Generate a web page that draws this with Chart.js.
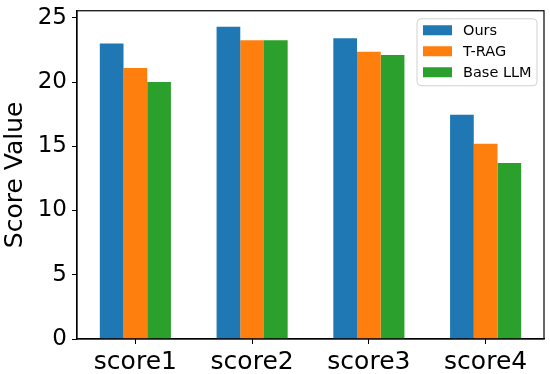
<!DOCTYPE html>
<html>
<head>
<meta charset="utf-8">
<script src="https://cdn.jsdelivr.net/npm/chart.js@4/dist/chart.umd.min.js"></script>
<style>
  html, body { margin: 0; padding: 0; background: #fff; }
  #wrap { width: 550px; height: 374px; }
</style>
</head>
<body>
<div id="wrap"><canvas id="chart"></canvas></div>
<script>
const categories = ["score1", "score2", "score3", "score4"];
const ours = [23.0, 24.3, 23.4, 17.45];
const trag = [21.1, 23.25, 22.35, 15.2];
const baseLlm = [20.0, 23.25, 22.1, 13.7];
const yTicks = [0, 5, 10, 15, 20, 25];

const font = "DejaVu Sans";

// matplotlib-style frame on all four sides
const framePlugin = {
  id: "frame",
  afterDraw(chart) {
    const { ctx, chartArea: a } = chart;
    ctx.save();
    ctx.strokeStyle = "#000";
    ctx.lineWidth = 1.2;
    ctx.strokeRect(a.left, a.top, a.right - a.left, a.bottom - a.top);
    ctx.restore();
  }
};

// legend box inside the upper right corner
const boxLegend = {
  id: "boxLegend",
  afterDraw(chart) {
    const { ctx, chartArea: a } = chart;
    const w = 120, h = 67;
    const x = a.right - 7 - w, y = a.top + 8;
    ctx.save();
    ctx.beginPath();
    ctx.roundRect(x, y, w, h, 4);
    ctx.fillStyle = "rgba(255,255,255,0.8)";
    ctx.fill();
    ctx.strokeStyle = "#d0d0d0";
    ctx.lineWidth = 1;
    ctx.stroke();
    ctx.font = `14.5px "${font}"`;
    ctx.textBaseline = "middle";
    chart.data.datasets.forEach((ds, i) => {
      const cy = y + 11.5 + i * 21;
      ctx.fillStyle = ds.backgroundColor;
      ctx.fillRect(x + 6, cy - 5, 29, 10);
      ctx.fillStyle = "#000";
      ctx.fillText(ds.label, x + 46, cy + 1);
    });
    ctx.restore();
  }
};

new Chart(document.getElementById("chart"), {
  type: "bar",
  plugins: [framePlugin, boxLegend],
  data: {
    labels: categories,
    datasets: [
      { label: "Ours", data: ours, backgroundColor: "#1f77b4" },
      { label: "T-RAG", data: trag, backgroundColor: "#ff7f0e" },
      { label: "Base LLM", data: baseLlm, backgroundColor: "#2ca02c" }
    ]
  },
  options: {
    responsive: true,
    maintainAspectRatio: false,
    animation: false,
    layout: { padding: { left: 0, right: 6, top: 7, bottom: 0 } },
    datasets: { bar: { barPercentage: 1, categoryPercentage: 0.609 } },
    plugins: { legend: { display: false }, tooltip: { enabled: false } },
    scales: {
      x: {
        afterFit(scale) { scale.height = 35; },
        grid: { drawOnChartArea: false, drawTicks: true, tickLength: 5, color: "#000", offset: false },
        border: { color: "#000", width: 1.2 },
        ticks: { color: "#000", padding: 3, font: { family: font, size: 25 } }
      },
      y: {
        min: 0,
        max: 25.55,
        afterFit(scale) { scale.width = 77; },
        afterBuildTicks(scale) { scale.ticks = yTicks.map((v) => ({ value: v })); },
        grid: { drawOnChartArea: false, drawTicks: true, tickLength: 5, color: "#000" },
        border: { color: "#000", width: 1.2 },
        ticks: { color: "#000", padding: 5, font: { family: font, size: 23, lineHeight: 0.5 } },
        title: {
          display: true,
          text: "Score Value",
          color: "#000",
          padding: { top: 0, bottom: 0 },
          font: { family: font, size: 25 }
        }
      }
    }
  }
});
</script>
</body>
</html>
